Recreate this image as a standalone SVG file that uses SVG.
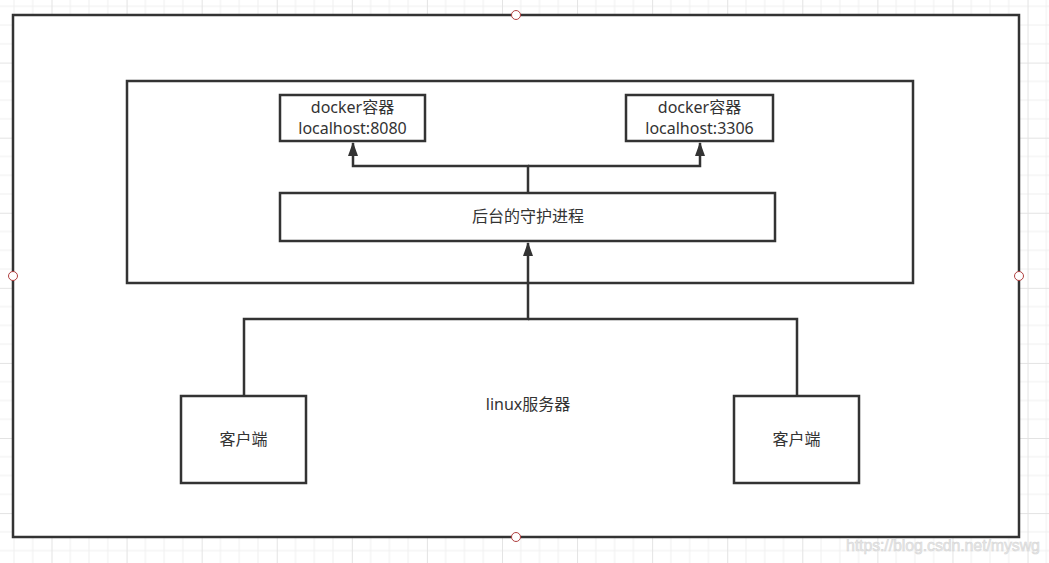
<svg xmlns="http://www.w3.org/2000/svg" width="1049" height="563" viewBox="0 0 1049 563">
<defs>
<pattern id="grid" patternUnits="userSpaceOnUse" x="51.5" y="62.6" width="75.08" height="75.08">
<path d="M18.77 0V75.08M37.54 0V75.08M56.31 0V75.08M0 18.77H75.08M0 37.54H75.08M0 56.31H75.08" stroke="#f0f0f0" stroke-width="1" fill="none"/>
<path d="M0.5 0V75.08M0 0.5H75.08" stroke="#e3e3e3" stroke-width="1" fill="none"/>
</pattern>
<marker id="arr" viewBox="0 0 14 10" refX="13" refY="5" markerWidth="14" markerHeight="10" markerUnits="userSpaceOnUse" orient="auto">
<path d="M0 0L14 5L0 10Z" fill="#333"/>
</marker>
<style>
.box{fill:#fff;stroke:#333;stroke-width:2.5}
.t{font-family:"Microsoft YaHei","Noto Sans","Noto Sans CJK SC",sans-serif;font-size:16px;fill:#333;text-anchor:middle}
.c{fill:none;stroke:#333;stroke-width:2.5}
.pt{fill:#fff;stroke:#b04040;stroke-width:1}
</style>
</defs>
<rect width="1049" height="563" fill="#fff"/>
<rect width="1049" height="563" fill="url(#grid)"/>
<g id="server">
<rect class="box" x="13" y="15" width="1006" height="522"/>
<text class="t" x="528" y="410">linux服务器</text>
</g>
<g id="host">
<rect class="box" x="127" y="81" width="786" height="202"/>
</g>
<g id="docker1">
<rect class="box" x="280" y="95" width="145" height="46"/>
<text class="t" x="352.5" y="113">docker容器</text>
<text class="t" x="352.5" y="134">localhost:8080</text>
</g>
<g id="docker2">
<rect class="box" x="626" y="95" width="147" height="46"/>
<text class="t" x="699.5" y="113">docker容器</text>
<text class="t" x="699.5" y="134">localhost:3306</text>
</g>
<g id="daemon">
<rect class="box" x="280" y="193" width="495" height="48"/>
<text class="t" x="528" y="222">后台的守护进程</text>
</g>
<g id="client1">
<rect class="box" x="181" y="396" width="125" height="87"/>
<text class="t" x="243.5" y="445">客户端</text>
</g>
<g id="client2">
<rect class="box" x="734" y="396" width="125" height="87"/>
<text class="t" x="796.5" y="445">客户端</text>
</g>
<g id="connectors">
<path class="c" d="M528 193V166H353V143" marker-end="url(#arr)"/>
<path class="c" d="M528 166H700V143" marker-end="url(#arr)"/>
<path class="c" d="M244 396V319H528V243" marker-end="url(#arr)"/>
<path class="c" d="M797 396V319H528"/>
</g>
<g id="handles">
<circle class="pt" cx="516" cy="15" r="4.5"/>
<circle class="pt" cx="13" cy="276" r="4.5"/>
<circle class="pt" cx="1019" cy="276" r="4.5"/>
<circle class="pt" cx="516" cy="537" r="4.5"/>
</g>
<text x="846" y="551" font-family="Liberation Sans, Arial, sans-serif" font-size="16" fill="#e8e8e8" stroke="#d4d4d4" stroke-width="0.5" textLength="194">https://blog.csdn.net/myswg</text>
</svg>
